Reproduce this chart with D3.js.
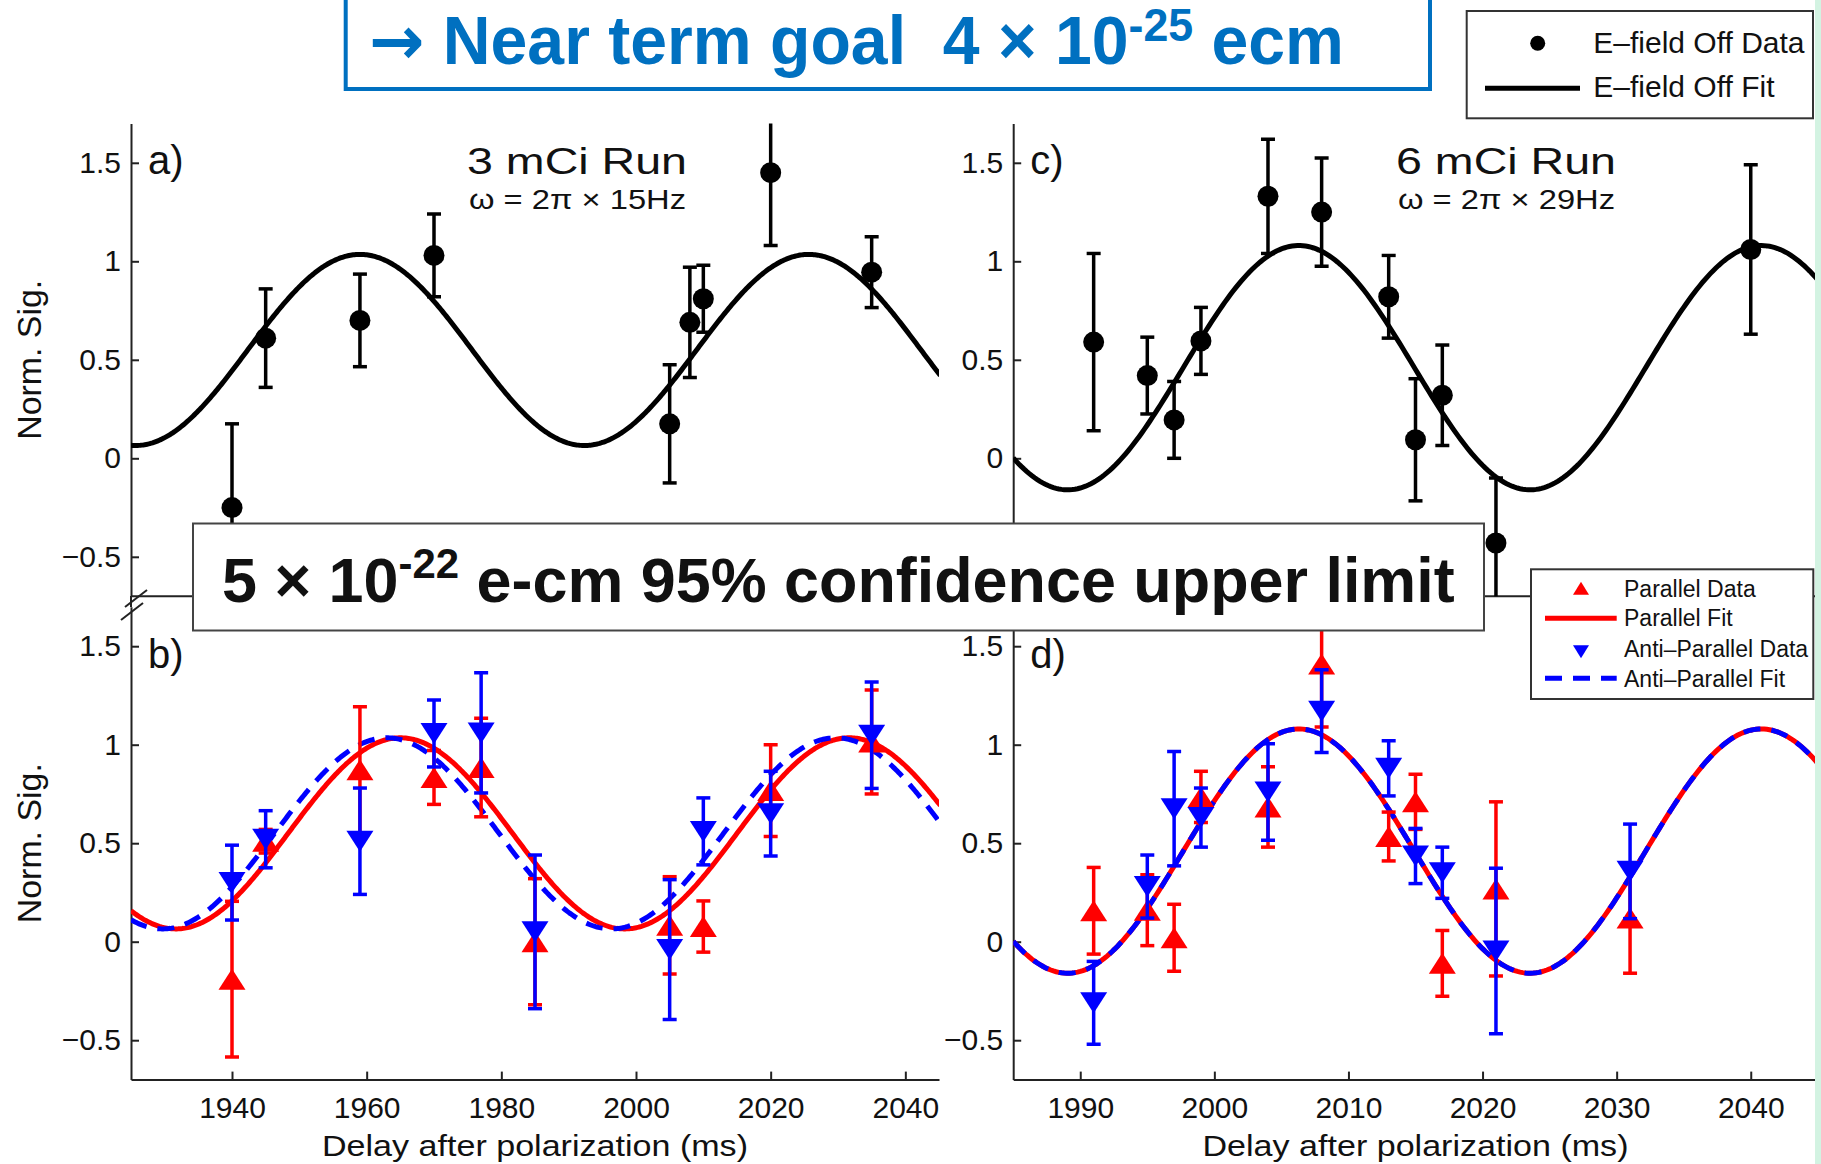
<!DOCTYPE html>
<html>
<head>
<meta charset="utf-8">
<script src="https://cdn.jsdelivr.net/npm/d3@7"></script>
<style>
  html, body { margin: 0; padding: 0; background: #fff; }
  svg { display: block; }
  text { font-family: 'Liberation Sans', Arial, sans-serif; }
</style>
</head>
<body>
<div id="chart"></div>
<script>
// ---- data ----
// a) 3 mCi run, E-field off
const runA_ms  = [1940, 1945, 1959, 1970, 2005, 2008, 2010, 2020, 2035]
const runA_sig = [-0.25, 0.61, 0.70, 1.03, 0.175, 0.69, 0.81, 1.45, 0.945]
const runA_err = [0.425, 0.25, 0.235, 0.21, 0.30, 0.28, 0.17, 0.37, 0.18]

// c) 6 mCi run, E-field off
const runC_ms  = [1991, 1995, 1997, 1999, 2004, 2008, 2013, 2015, 2017, 2021, 2040]
const runC_sig = [0.59, 0.42, 0.195, 0.596, 1.33, 1.25, 0.82, 0.094, 0.32, -0.43, 1.06]
const runC_err = [0.45, 0.195, 0.195, 0.17, 0.29, 0.275, 0.21, 0.31, 0.255, 0.33, 0.43]

// b) 3 mCi, parallel / anti-parallel
const runB_ms       = [1940, 1945, 1959, 1970, 1977, 1985, 2005, 2010, 2020, 2035]
const runB_par      = [-0.19, 0.51, 0.873, 0.834, 0.884, 0.0, 0.083, 0.077, 0.767, 1.014]
const runB_par_err  = [0.395, 0.06, 0.32, 0.137, 0.25, 0.32, 0.247, 0.13, 0.233, 0.264]
const runB_anti     = [0.30, 0.52, 0.51, 1.057, 1.06, 0.05, -0.04, 0.56, 0.65, 1.048]
const runB_anti_err = [0.19, 0.145, 0.27, 0.17, 0.305, 0.39, 0.355, 0.17, 0.215, 0.27]

// d) 6 mCi, parallel / anti-parallel
const runD_ms       = [1991, 1995, 1997, 1999, 2004, 2008, 2013, 2015, 2017, 2021, 2031]
const runD_par      = [0.157, 0.16, 0.02, 0.735, 0.684, 1.41, 0.534, 0.71, -0.11, 0.268, 0.12]
const runD_par_err  = [0.22, 0.18, 0.17, 0.13, 0.204, 0.32, 0.124, 0.14, 0.167, 0.442, 0.28]
const runD_anti     = [-0.31, 0.28, 0.675, 0.63, 0.76, 1.17, 0.88, 0.435, 0.35, -0.047, 0.357]
const runD_anti_err = [0.21, 0.16, 0.29, 0.15, 0.245, 0.21, 0.14, 0.14, 0.13, 0.42, 0.24]

// sine fits: [freq Hz, offset, amplitude, time of peak ms]
const fitA     = [15, 0.55, 0.485, 1959]
const fitB_par = [15, 0.55, 0.485, 1965]
const fitB_ant = [15, 0.55, 0.485, 1963]
const fitC     = [29, 0.46, 0.62, 2006.3]
const fitD_par = [29, 0.46, 0.62, 2006.3]
const fitD_ant = [29, 0.46, 0.62, 2006.3]

const yTicks = [-0.5, 0, 0.5, 1, 1.5]
const xTicksLeft = [1940, 1960, 1980, 2000, 2020, 2040]
const xTicksRight = [1990, 2000, 2010, 2020, 2030, 2040]
const yLim = [-0.7, 1.7]
const xLimLeft = [1925, 2045]
const xLimRight = [1985, 2045]

// ---- layout ----
const W = 1821, H = 1164
const colL = [131, 939], colR = [1013.2, 1817.8]
const rowTop = [596.2, 123.4], rowBot = [1079.6, 606.8]
const RED = '#ff0000', BLUE = '#0000ff'

const svg = d3.select('#chart').append('svg').attr('width', W).attr('height', H)
svg.append('rect').attr('width', W).attr('height', H).attr('fill', '#fff')

function markerPath(kind, w, h) {
    if (kind === 'up') return `M0,${-h / 2}L${w / 2},${h / 2}L${-w / 2},${h / 2}Z`
    return `M0,${h / 2}L${w / 2},${-h / 2}L${-w / 2},${-h / 2}Z`
}

function fitCurve(f, dom) {
    const [freq, off, amp, peak] = f
    return d3.range(dom[0], dom[1] + 0.2, 0.2).map(t => [t, off + amp * Math.cos(2 * Math.PI * freq * (t - peak) / 1000)])
}

const fmt = d => String(d).replace('-', '\u2212')

function drawPanel(p) {
    const x = d3.scaleLinear().domain(p.xLim).range(p.xr)
    const y = d3.scaleLinear().domain(yLim).range(p.yr)
    const g = svg.append('g')

    const clipId = 'clip-' + p.id
    svg.append('clipPath').attr('id', clipId).append('rect')
        .attr('x', p.xr[0]).attr('y', p.yr[1])
        .attr('width', p.xr[1] - p.xr[0]).attr('height', p.yr[0] - p.yr[1])

    // left axis, ticks inward
    const ay = g.append('g').attr('transform', `translate(${p.xr[0]},0)`)
        .call(d3.axisLeft(y).tickValues(yTicks).tickSize(-8).tickSizeOuter(0).tickPadding(10).tickFormat(fmt))
    ay.select('.domain').attr('stroke', '#222').attr('stroke-width', 2)
    ay.selectAll('.tick line').attr('stroke', '#222').attr('stroke-width', 2)
    ay.selectAll('.tick text').attr('font-size', 30).attr('fill', '#111')
        .attr('font-family', "'Liberation Sans', Arial, sans-serif")

    if (p.xTicks) {
        const ax = g.append('g').attr('transform', `translate(0,${p.yr[0]})`)
            .call(d3.axisBottom(x).tickValues(p.xTicks).tickSize(-8).tickSizeOuter(0).tickPadding(17).tickFormat(d3.format('d')))
        ax.select('.domain').attr('stroke', '#222').attr('stroke-width', 2)
        ax.selectAll('.tick line').attr('stroke', '#222').attr('stroke-width', 2)
        ax.selectAll('.tick text').attr('font-size', 30).attr('fill', '#111')
            .attr('font-family', "'Liberation Sans', Arial, sans-serif")
        g.append('text')
            .attr('x', (p.xr[0] + p.xr[1]) / 2).attr('y', p.yr[0] + 76)
            .attr('text-anchor', 'middle').attr('font-size', 30).attr('fill', '#111')
            .attr('textLength', 426).attr('lengthAdjust', 'spacingAndGlyphs')
            .text('Delay after polarization (ms)')
    } else {
        g.append('line').attr('x1', p.xr[0]).attr('x2', p.xr[1])
            .attr('y1', p.yr[0]).attr('y2', p.yr[0]).attr('stroke', '#222').attr('stroke-width', 2)
    }

    if (p.ylabel) {
        g.append('text')
            .attr('transform', `translate(${p.xr[0] - 90},${(p.yr[0] + p.yr[1]) / 2}) rotate(-90)`)
            .attr('text-anchor', 'middle').attr('font-size', 34).attr('fill', '#111')
            .attr('textLength', 160).attr('lengthAdjust', 'spacingAndGlyphs')
            .text('Norm. Sig.')
    }

    const plot = g.append('g').attr('clip-path', `url(#${clipId})`)
    const line = d3.line().x(d => x(d[0])).y(d => y(d[1]))

    for (const f of p.fits) {
        plot.append('path').attr('d', line(fitCurve(f.par, p.xLim)))
            .attr('fill', 'none').attr('stroke', f.color).attr('stroke-width', 5)
            .attr('stroke-dasharray', f.dash ? '17 11' : null)
    }

    for (const s of p.series) {
        const pts = s.ms.map((t, i) => ({ t, v: s.sig[i], e: s.err[i] }))
        const eb = plot.append('g').attr('stroke', s.color).attr('stroke-width', 3.5)
        for (const d of pts) {
            const cx = x(d.t), lo = y(d.v - d.e), hi = y(d.v + d.e)
            eb.append('line').attr('x1', cx).attr('x2', cx).attr('y1', lo).attr('y2', hi)
            eb.append('line').attr('x1', cx - 7).attr('x2', cx + 7).attr('y1', lo).attr('y2', lo)
            eb.append('line').attr('x1', cx - 7).attr('x2', cx + 7).attr('y1', hi).attr('y2', hi)
        }
        if (s.marker === 'dot') {
            plot.append('g').selectAll('circle').data(pts).join('circle')
                .attr('cx', d => x(d.t)).attr('cy', d => y(d.v)).attr('r', 10.5).attr('fill', s.color)
        } else {
            plot.append('g').selectAll('path').data(pts).join('path')
                .attr('transform', d => `translate(${x(d.t)},${y(d.v)})`)
                .attr('d', markerPath(s.marker, 27, 21)).attr('fill', s.color)
        }
    }

    g.append('text').attr('x', p.xr[0] + 17).attr('y', p.yr[1] + (p.id === 'a' || p.id === 'c' ? 50.5 : 61.5))
        .attr('font-size', 40).attr('fill', '#111').text(p.id + ')')

    if (p.title) {
        g.append('text').attr('x', p.title[1]).attr('y', 174).attr('font-size', 37).attr('fill', '#111')
            .attr('textLength', 220).attr('lengthAdjust', 'spacingAndGlyphs').text(p.title[0])
        g.append('text').attr('x', p.title[1] + 2).attr('y', 208.6).attr('font-size', 27).attr('fill', '#111')
            .attr('textLength', 217).attr('lengthAdjust', 'spacingAndGlyphs').text(p.title[2])
    }
}

drawPanel({
    id: 'a', xLim: xLimLeft, xr: colL, yr: rowTop, ylabel: true, title: ['3 mCi Run', 467, '\u03c9 = 2\u03c0 \u00d7 15Hz'],
    fits: [{ par: fitA, color: '#000' }],
    series: [{ ms: runA_ms, sig: runA_sig, err: runA_err, color: '#000', marker: 'dot' }]
})
drawPanel({
    id: 'c', xLim: xLimRight, xr: colR, yr: rowTop, title: ['6 mCi Run', 1396, '\u03c9 = 2\u03c0 \u00d7 29Hz'],
    fits: [{ par: fitC, color: '#000' }],
    series: [{ ms: runC_ms, sig: runC_sig, err: runC_err, color: '#000', marker: 'dot' }]
})
drawPanel({
    id: 'b', xLim: xLimLeft, xr: colL, yr: rowBot, ylabel: true, xTicks: xTicksLeft,
    fits: [{ par: fitB_par, color: RED }, { par: fitB_ant, color: BLUE, dash: true }],
    series: [
        { ms: runB_ms, sig: runB_par, err: runB_par_err, color: RED, marker: 'up' },
        { ms: runB_ms, sig: runB_anti, err: runB_anti_err, color: BLUE, marker: 'down' }
    ]
})
drawPanel({
    id: 'd', xLim: xLimRight, xr: colR, yr: rowBot, xTicks: xTicksRight,
    fits: [{ par: fitD_par, color: RED }, { par: fitD_ant, color: BLUE, dash: true }],
    series: [
        { ms: runD_ms, sig: runD_par, err: runD_par_err, color: RED, marker: 'up' },
        { ms: runD_ms, sig: runD_anti, err: runD_anti_err, color: BLUE, marker: 'down' }
    ]
})

// axis break marks between a and b
const brk = svg.append('g').attr('stroke', '#222').attr('stroke-width', 2)
brk.append('line').attr('x1', 125).attr('y1', 607).attr('x2', 147).attr('y2', 590)
brk.append('line').attr('x1', 121).attr('y1', 620).attr('x2', 143).attr('y2', 603)
svg.append('line').attr('x1', colL[0]).attr('x2', colL[0]).attr('y1', 596).attr('y2', 607)
    .attr('stroke', '#222').attr('stroke-width', 2)

// fit a rich text line into a given horizontal span
function fitText(t, x0, width) {
    const bb = t.node().getBBox()
    t.attr('transform', `translate(${x0},0) scale(${width / bb.width},1) translate(${-bb.x},0)`)
}

// big "upper limit" box
svg.append('rect').attr('x', 193).attr('y', 523.5).attr('width', 1291).attr('height', 107)
    .attr('fill', '#fff').attr('stroke', '#444').attr('stroke-width', 2)
const lim = svg.append('text').attr('y', 601.7).attr('font-family', "'Open Sans', sans-serif")
    .attr('font-weight', 'bold').attr('font-size', 63).attr('fill', '#111').style('white-space', 'pre')
lim.append('tspan').text('5 \u00d7 10')
lim.append('tspan').attr('font-size', 42).attr('dy', -24).text('-22')
lim.append('tspan').attr('dy', 24).text(' e-cm 95% confidence upper limit')
fitText(lim, 222, 1233)

// near-term goal box
svg.append('rect').attr('x', 345.7).attr('y', -10).attr('width', 1084.3).attr('height', 99)
    .attr('fill', '#fff').attr('stroke', '#0070c0').attr('stroke-width', 4)
const goal = svg.append('text').attr('y', 63.6).attr('font-family', "'Open Sans', sans-serif")
    .attr('font-weight', 'bold').attr('font-size', 68).attr('fill', '#0070c0').style('white-space', 'pre')
goal.append('tspan').attr('font-family', "'DejaVu Sans', sans-serif").text('\u2192')
goal.append('tspan').text(' Near term goal  4 \u00d7 10')
goal.append('tspan').attr('font-size', 46).attr('dy', -23).text('-25')
goal.append('tspan').attr('dy', 23).text(' ecm')
fitText(goal, 369, 975)

// legend, top right
const lg1 = svg.append('g')
lg1.append('rect').attr('x', 1466.7).attr('y', 11).attr('width', 346.3).attr('height', 107.3)
    .attr('fill', '#fff').attr('stroke', '#333').attr('stroke-width', 2)
lg1.append('circle').attr('cx', 1537.7).attr('cy', 43.3).attr('r', 7.5).attr('fill', '#000')
lg1.append('line').attr('x1', 1485).attr('x2', 1580).attr('y1', 88.3).attr('y2', 88.3)
    .attr('stroke', '#000').attr('stroke-width', 5)
lg1.append('text').attr('x', 1593.3).attr('y', 53.3).attr('font-size', 30).attr('fill', '#111').text('E\u2013field Off Data')
lg1.append('text').attr('x', 1593.3).attr('y', 96.7).attr('font-size', 30).attr('fill', '#111').text('E\u2013field Off Fit')

// legend, bottom right
const lg2 = svg.append('g')
lg2.append('rect').attr('x', 1531).attr('y', 569.3).attr('width', 282.3).attr('height', 129.7)
    .attr('fill', '#fff').attr('stroke', '#333').attr('stroke-width', 2)
lg2.append('path').attr('transform', 'translate(1581,588.3)').attr('d', markerPath('up', 16, 13)).attr('fill', RED)
lg2.append('line').attr('x1', 1545).attr('x2', 1616.7).attr('y1', 618.3).attr('y2', 618.3)
    .attr('stroke', RED).attr('stroke-width', 5)
lg2.append('path').attr('transform', 'translate(1581,651.7)').attr('d', markerPath('down', 16, 13)).attr('fill', BLUE)
lg2.append('line').attr('x1', 1545).attr('x2', 1616.7).attr('y1', 678.3).attr('y2', 678.3)
    .attr('stroke', BLUE).attr('stroke-width', 5).attr('stroke-dasharray', '17 11')
const legTexts = ['Parallel Data', 'Parallel Fit', 'Anti\u2013Parallel Data', 'Anti\u2013Parallel Fit']
const legY = [596.7, 626, 657.3, 686.7]
legTexts.forEach((t, i) => {
    lg2.append('text').attr('x', 1624).attr('y', legY[i]).attr('font-size', 23).attr('fill', '#111').text(t)
})

// slide edge strip on the right
svg.append('rect').attr('x', 1815).attr('y', 0).attr('width', 6).attr('height', H).attr('fill', '#d3f3e2')
</script>
</body>
</html>
